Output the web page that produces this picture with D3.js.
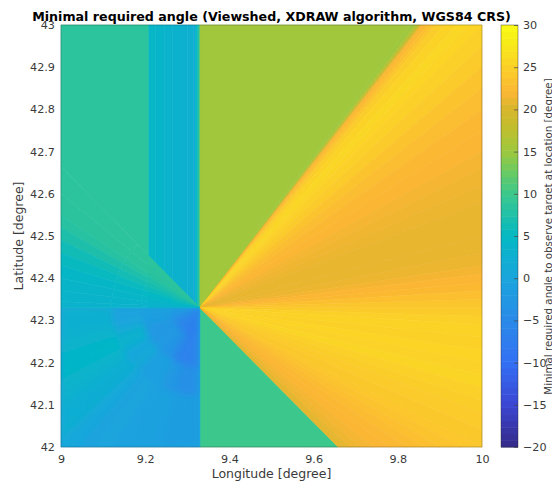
<!DOCTYPE html>
<html>
<head>
<meta charset="utf-8">
<script src="https://cdn.jsdelivr.net/npm/d3@7"></script>
<style>
html, body { margin: 0; padding: 0; background: #fff; overflow: hidden; }
text { font-family: "DejaVu Sans", sans-serif; fill: #3a3a3a; }
</style>
</head>
<body>
<div id="chart"></div>
<script>
var width = 552, height = 486;
var margin = ({top: 25, right: 70, bottom: 39, left: 61});

var xTicks = [9, 9.2, 9.4, 9.6, 9.8, 10];
var yTicks = [42, 42.1, 42.2, 42.3, 42.4, 42.5, 42.6, 42.7, 42.8, 42.9, 43];
var cbTicks = [-20, -15, -10, -5, 0, 5, 10, 15, 20, 25, 30];

// colour map
var cmapValues = [-20, -15, -10, -5, 0, 5, 10, 13, 15, 18, 20, 22, 25, 28, 30];
var cmapColors = ["#352a87", "#3b46d2", "#3370f5", "#2a8ae8", "#1aa5dd", "#04b8c4", "#3cc88c", "#70ca5c", "#9dc83e", "#c2be2c", "#d6b62c", "#fbb634", "#fbd028", "#f8ec18", "#f9fb15"];

// observer location, all rays start here
var srcLon = 9.33, srcLat = 42.33;

// flat areas
var flatTopLeftLon = [9, 9.207, 9.207, 9], flatTopLeftLat = [43, 43, 42.455, 42.665], flatTopLeftValue = 8.6;
var flatTopRightLon = [9.33, 9.83, 9.33], flatTopRightLat = [42.33, 43, 43], flatTopRightValue = 15.3;
var flatBottomLon = [9.33, 9.658, 9.33], flatBottomLat = [42.33, 42, 42], flatBottomValue = 10;
var southWestBase = 0;

// vertical stripes above the observer
var stripLon = [9.207, 9.225, 9.245, 9.265, 9.285, 9.3, 9.315, 9.32, 9.325, 9.33];
var stripValue = [4.4, 4, 3.6, 3.2, 2.9, 2.6, 2.2, 5, 8];

// east fan, border points clockwise and one value between each pair
var eastLon = [9.83, 9.84, 9.845, 9.85, 9.855, 9.86, 9.87, 9.88, 9.89, 9.91, 9.94, 9.97, 10,
  10, 10, 10, 10, 10, 10, 10, 10, 10, 10, 10, 10, 10, 10, 10, 10, 10, 10, 10, 10, 10, 10, 10, 10, 10, 10, 10, 10,
  9.95, 9.9, 9.86, 9.82, 9.78, 9.74, 9.71, 9.685, 9.658];
var eastLat = [43, 43, 43, 43, 43, 43, 43, 43, 43, 43, 43, 43, 43,
  42.95, 42.9, 42.85, 42.8, 42.75, 42.7, 42.66, 42.62, 42.58, 42.5, 42.46, 42.43, 42.41, 42.39, 42.37, 42.35, 42.33, 42.31, 42.29, 42.26, 42.23, 42.2, 42.17, 42.14, 42.11, 42.08, 42.04, 42,
  42, 42, 42, 42, 42, 42, 42, 42, 42];
var eastValue = [15, 16, 17, 19, 21.5, 22.3, 23, 23.8, 24.6, 25.3, 25.6, 25.4,
  25, 24.3, 23.5, 22.8, 22.3, 22, 21.7, 21.4, 21.2, 21, 21, 21.2, 21.6, 22, 22.4, 23, 23.7, 24.3, 25, 25.3, 25.1, 25.4, 25.2, 25.5, 25, 24.7, 24.3, 24.1,
  24, 23.5, 23, 22.7, 22.3, 22, 21.7, 21.3, 20.8];

// west fan, border points anticlockwise and values per distance ring between each pair
var ringDist = [0, 0.07, 0.14, 0.21, 9];
var westLon = [9, 9, 9, 9, 9, 9, 9, 9, 9, 9, 9, 9, 9, 9, 9, 9, 9, 9, 9, 9, 9, 9, 9,
  9.04, 9.08, 9.12, 9.16, 9.2, 9.24, 9.28, 9.31, 9.33];
var westLat = [42.665, 42.6, 42.55, 42.52, 42.49, 42.46, 42.43, 42.4, 42.37, 42.345, 42.33, 42.31, 42.28, 42.25, 42.22, 42.19, 42.16, 42.13, 42.1, 42.07, 42.04, 42.02, 42,
  42, 42, 42, 42, 42, 42, 42, 42, 42];
var westValues = [
  [8.6, 8.6, 8.6, 8.6], [8.4, 8.4, 8.4, 8.4], [8, 8, 8, 8], [7.5, 7.4, 7.2, 7.2], [7, 6.7, 6.4, 6.2],
  [6.3, 5.8, 5.5, 5.4], [5.6, 5, 4.8, 4.7], [4.8, 4.4, 4.3, 4.2], [4.2, 3.9, 3.8, 3.8], [3.5, 3.4, 3.4, 3.6],
  [-1.5, -1, -0.5, 2.8], [-1.5, -1, -0.3, 2.5], [-2.5, -1.2, 0, 2.8], [-3, -1.5, 1.5, 3.6], [-3.5, -2, 3, 4.5],
  [-4, -2.5, 3.5, 4.5], [-4.5, -2.5, 2, 3.8], [-5, -2.5, 0.5, 3.2], [-5.5, -3, 0.5, 2.4], [-8, -2.5, 0.8, 2],
  [-5, -0.5, 2.2, 2.6], [-5.5, -1.5, 1, 1],
  [-6, -3, -1, 0.5], [-6, -3, -1, -0.3], [-6.5, -3, -1, 0], [-7, -4, -1, -0.5], [-7.5, -6, -2, -0.8],
  [-7.5, -6.5, -3, -1], [-7, -6.5, -4, -1.5], [-6, -6, -4, -1.5], [-5, -5, -3, -1.5]
];
var westFlatRows = 10; // rows above this index stay sharp, the ones below are soft

var titleText = "Minimal required angle (Viewshed, XDRAW algorithm, WGS84 CRS)";
var xLabel = "Longitude [degree]";
var yLabel = "Latitude [degree]";
var cbLabel = "Minimal required angle to observe target at location [degree]";

var x = d3.scaleLinear().domain([9, 10]).range([margin.left, width - margin.right]);
var y = d3.scaleLinear().domain([42, 43]).range([height - margin.bottom, margin.top]);
var color = d3.scaleLinear().domain(cmapValues).range(cmapColors).clamp(true);

var svg = d3.select("#chart").append("svg")
  .attr("width", width)
  .attr("height", height)
  .style("display", "block");

var defs = svg.append("defs");
defs.append("filter").attr("id", "soft")
  .attr("x", "-5%").attr("y", "-5%").attr("width", "110%").attr("height", "110%")
  .append("feGaussianBlur").attr("stdDeviation", 3);
defs.append("clipPath").attr("id", "sw")
  .append("rect")
    .attr("x", x(9)).attr("y", y(srcLat))
    .attr("width", x(srcLon) - x(9)).attr("height", y(42) - y(srcLat));

var map = svg.append("g").attr("class", "map");

function patch(parent, lons, lats, value){
  parent.append("polygon")
    .attr("points", lons.map((d, i) => x(d) + "," + y(lats[i])).join(" "))
    .attr("fill", color(value))
    .attr("stroke", color(value))
    .attr("stroke-width", 0.6);
}

// stripes first, the west fan covers their lower part
stripValue.forEach(function(v, i){
  patch(map, [stripLon[i], stripLon[i + 1], stripLon[i + 1], stripLon[i]], [43, 43, srcLat, srcLat], v);
});
patch(map, flatTopLeftLon, flatTopLeftLat, flatTopLeftValue);
patch(map, flatTopRightLon, flatTopRightLat, flatTopRightValue);
patch(map, flatBottomLon, flatBottomLat, flatBottomValue);
patch(map, [9, srcLon, srcLon, 9], [srcLat, srcLat, 42, 42], southWestBase);

eastValue.forEach(function(v, i){
  patch(map, [srcLon, eastLon[i], eastLon[i + 1]], [srcLat, eastLat[i], eastLat[i + 1]], v);
});

var soft = map.append("g").attr("clip-path", "url(#sw)").append("g").attr("filter", "url(#soft)");

function ringFrac(j, dist){
  var len = Math.hypot(westLon[j] - srcLon, westLat[j] - srcLat);
  return Math.min(1, dist / len);
}

westValues.forEach(function(row, i){
  var parent = i < westFlatRows ? map : soft;
  row.forEach(function(v, k){
    var lonAt = (j, d) => srcLon + (westLon[j] - srcLon) * ringFrac(j, d);
    var latAt = (j, d) => srcLat + (westLat[j] - srcLat) * ringFrac(j, d);
    var d0 = ringDist[k], d1 = ringDist[k + 1];
    patch(parent, [lonAt(i, d0), lonAt(i, d1), lonAt(i + 1, d1), lonAt(i + 1, d0)],
          [latAt(i, d0), latAt(i, d1), latAt(i + 1, d1), latAt(i + 1, d0)], v);
  });
});

// plot box
svg.append("rect")
  .attr("x", x(9)).attr("y", y(43))
  .attr("width", x(10) - x(9)).attr("height", y(42) - y(43))
  .attr("fill", "none")
  .attr("stroke", "#262626")
  .attr("stroke-opacity", 0.4)
  .attr("stroke-width", 0.7);

var xAxis = g => g
  .attr("transform", `translate(0,${y(42)})`)
  .call(d3.axisBottom(x).tickValues(xTicks).tickFormat(d3.format("")).tickSize(0).tickPadding(8.5))
  .call(g => g.select(".domain").remove());

var yAxis = g => g
  .attr("transform", `translate(${x(9)},0)`)
  .call(d3.axisLeft(y).tickValues(yTicks).tickFormat(d3.format("")).tickSize(0).tickPadding(6))
  .call(g => g.select(".domain").remove());

svg.append("g").attr("class", "x-axis").call(xAxis);
svg.append("g").attr("class", "y-axis").call(yAxis);
svg.selectAll(".x-axis text, .y-axis text").style("font-size", "11.2px").attr("font-family", null);

svg.append("text")
  .attr("x", (x(9) + x(10)) / 2)
  .attr("y", 478)
  .attr("text-anchor", "middle")
  .style("font-size", "12.5px")
  .text(xLabel);

svg.append("text")
  .attr("transform", `translate(23,${(y(42) + y(43)) / 2}) rotate(-90)`)
  .attr("text-anchor", "middle")
  .style("font-size", "12.5px")
  .text(yLabel);

svg.append("text")
  .attr("x", 271.5)
  .attr("y", 21)
  .attr("text-anchor", "middle")
  .style("font-size", "12.65px")
  .style("font-weight", "bold")
  .style("fill", "#000")
  .text(titleText);

// colour bar
var cb = d3.scaleLinear().domain([-20, 30]).range([y(42), y(43)]);
var cbLeft = 501, cbRight = 518;
var cbSteps = d3.range(-20, 30, 50 / 64);

svg.append("g").selectAll("rect")
  .data(cbSteps)
  .join("rect")
    .attr("x", cbLeft)
    .attr("width", cbRight - cbLeft)
    .attr("y", d => cb(d + 50 / 64))
    .attr("height", d => cb(d) - cb(d + 50 / 64) + 0.5)
    .attr("fill", d => color(d + 25 / 64));

svg.append("rect")
  .attr("x", cbLeft).attr("y", cb(30))
  .attr("width", cbRight - cbLeft).attr("height", cb(-20) - cb(30))
  .attr("fill", "none")
  .attr("stroke", "#262626")
  .attr("stroke-opacity", 0.6)
  .attr("stroke-width", 0.7);

svg.append("g")
  .attr("class", "cb-axis")
  .attr("transform", `translate(${cbRight},0)`)
  .call(d3.axisRight(cb).tickValues(cbTicks).tickFormat(d3.format("")).tickSize(-4).tickPadding(5))
  .call(g => g.select(".domain").remove())
  .call(g => g.selectAll("line").attr("stroke", "#444").attr("stroke-width", 0.7))
  .call(g => g.selectAll("text").style("font-size", "11.2px").attr("font-family", null));

svg.append("text")
  .attr("transform", "translate(552,236.5) rotate(-90)")
  .attr("text-anchor", "middle")
  .style("font-size", "10.3px")
  .text(cbLabel);
</script>
</body>
</html>
